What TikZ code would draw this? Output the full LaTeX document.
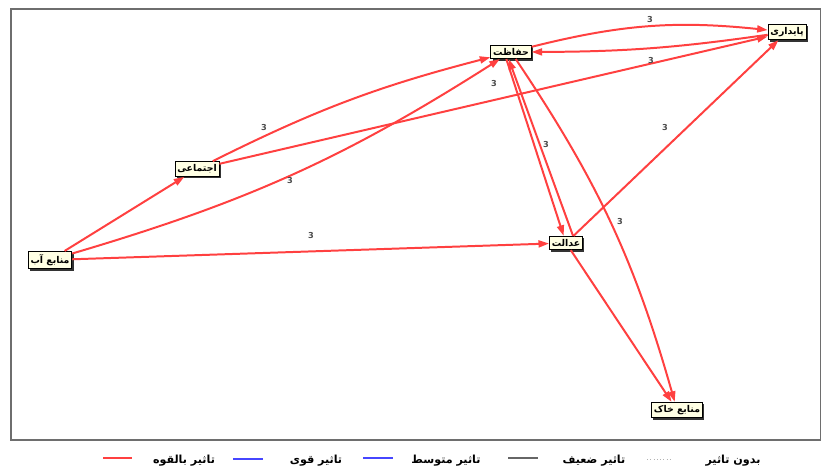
\documentclass[tikz,border=0pt]{standalone}
\usepackage{fontspec}
\newfontfamily\arabicfont[Script=Arabic]{DejaVu Sans}
\TeXXeTstate=1
\usetikzlibrary{arrows.meta,shadows}
\definecolor{linkred}{RGB}{255,64,64}
\definecolor{nodecream}{RGB}{255,255,228}
\definecolor{framegray}{RGB}{110,110,110}
\definecolor{legblue}{RGB}{70,70,255}
\newcommand{\fa}[1]{{\arabicfont\beginR #1\endR}}
\tikzset{
  concept/.style={draw=black, line width=0.7pt, fill=nodecream, inner xsep=2pt, inner ysep=2.6pt,
    font=\bfseries\fontsize{8}{9}\selectfont,
    drop shadow={shadow xshift=1.6pt, shadow yshift=-1.6pt, fill=black!80, opacity=1}},
  link/.style={draw=linkred, line width=1.7pt, -{Triangle[length=9pt,width=6pt]}},
  weight/.style={font=\arabicfont\bfseries\fontsize{7}{8}\selectfont, text=black!70, inner sep=0pt},
  legtext/.style={font=\bfseries\fontsize{9.5}{10}\selectfont, inner sep=0pt},
}
\begin{document}
\begin{tikzpicture}[x=0.03cm, y=-0.03cm]
   \useasboundingbox (0,0) rectangle (822,470);
   \draw[framegray, line width=1.4pt] (11,9) rectangle (820.5,440);
   % concepts
   \node[concept] (hef) at (511, 52) {\fa{حفاظت}};
   \node[concept] (pay) at (787, 32) {\fa{پایداری}};
   \node[concept] (ejt) at (197, 169) {\fa{اجتماعی}};
   \node[concept] (ab) at (50, 260) {\fa{منابع آب}};
   \node[concept] (ed) at (566, 243) {\fa{عدالت}};
   \node[concept] (khak) at (677, 410) {\fa{منابع خاک}};
   % links
   \draw[link] (hef) to[bend left=10] (pay);
   \draw[link] (pay) to[bend left=4] (hef);
   \draw[link] (ejt) -- (pay);
   \draw[link] (ejt) to[bend left=6] (hef);
   \draw[link] (ab) -- (ejt);
   \draw[link] (ab) to[bend right=8] (hef);
   \draw[link] (ab) -- (ed);
   \draw[link] ([xshift=-4pt]hef.south) -- ([xshift=-2pt]ed.north);
   \draw[link] ([xshift=6pt]ed.north) -- ([xshift=-2pt]hef.south);
   \draw[link] (ed) -- (pay);
   \draw[link] (hef) to[bend left=9] (khak);
   \draw[link] (ed) -- (khak);
   % weights
   \node[weight] (w1) at (650, 20) {3};
   \node[weight] (w2) at (651, 61) {3};
   \node[weight] (w3) at (494, 84) {3};
   \node[weight] (w4) at (264, 128) {3};
   \node[weight] (w5) at (290, 181) {3};
   \node[weight] (w6) at (311, 236) {3};
   \node[weight] (w7) at (546, 145) {3};
   \node[weight] (w8) at (665, 128) {3};
   \node[weight] (w9) at (620, 222) {3};
   % legend
   \node[legtext] (l1) at (733, 461) {\fa{بدون تاثیر}};
   \draw[black!30, line width=0.8pt, dotted] (647, 459) -- (670, 459);
   \node[legtext] (l2) at (594, 461) {\fa{تاثیر ضعیف}};
   \draw[black!60, line width=0.9pt] (508, 458) -- (538, 458);
   \node[legtext] (l3) at (446, 461) {\fa{تاثیر متوسط}};
   \draw[legblue, line width=0.9pt] (363, 458) -- (393, 458);
   \node[legtext] (l4) at (316, 461) {\fa{تاثیر قوی}};
   \draw[legblue, line width=2pt] (233, 459) -- (263, 459);
   \node[legtext] (l5) at (184, 461) {\fa{تاثیر بالقوه}};
   \draw[linkred, line width=2pt] (103, 458) -- (132, 458);
\end{tikzpicture}
\end{document}
